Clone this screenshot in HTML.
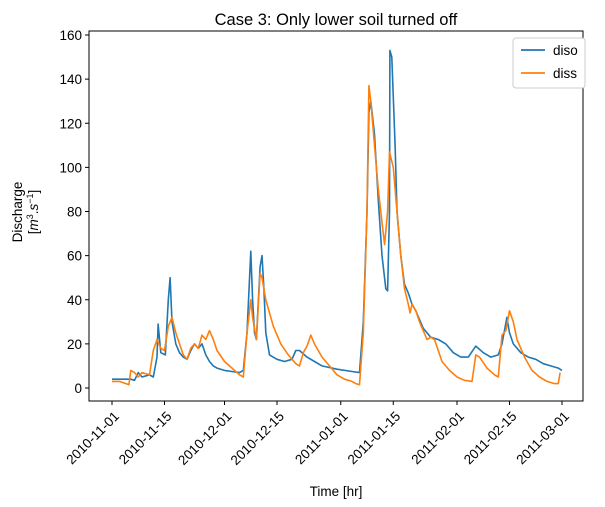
<!DOCTYPE html>
<html><head><meta charset="utf-8"><style>
html,body{margin:0;padding:0;background:#fff;}
svg{display:block;font-family:"Liberation Sans","DejaVu Sans",sans-serif;}
</style></head><body>
<svg id="chart" width="605" height="507">
<text x="336" y="25" text-anchor="middle" font-size="16.5">Case 3: Only lower soil turned off</text>
<g id="plot"></g>
<g id="axes"></g>
<text x="336" y="496" text-anchor="middle" font-size="13.5">Time [hr]</text>
<g transform="translate(22,212) rotate(-90)">
<text x="0" y="0" text-anchor="middle" font-size="13.5">Discharge</text>
<text x="0" y="16" text-anchor="middle" font-size="13.5">[<tspan font-style="italic">m</tspan><tspan font-size="9" dy="-5">3</tspan><tspan dy="5">.</tspan><tspan font-style="italic">s</tspan><tspan font-size="9" dy="-5">−1</tspan><tspan dy="5">]</tspan></text>
</g>
<g>
<rect x="513" y="38" width="72" height="50" fill="#fff" stroke="#ccc" rx="3"></rect>
<line x1="521" y1="50" x2="545" y2="50" stroke="#1f77b4" stroke-width="1.8"></line>
<text x="553" y="55" font-size="13.5">diso</text>
<line x1="521" y1="73" x2="545" y2="73" stroke="#ff7f0e" stroke-width="1.8"></line>
<text x="553" y="78" font-size="13.5">diss</text>
</g>
</svg>
<script>
const xTickLabels=["2010-11-01","2010-11-15","2010-12-01","2010-12-15","2011-01-01","2011-01-15","2011-02-01","2011-02-15","2011-03-01"];
const xTickDays=[0,14,30,44,61,75,92,106,120];
const yTicks=[0,20,40,60,80,100,120,140,160];
const disoDays=[0,5,6,7,8,10,11,12,12.3,13,14.2,15,15.5,16,17,18,19,20,21,22,23,24,25,26,27,28,30,32,34,35,36,37,37.5,38,38.5,39.5,40,40.5,41,42,44,46,48,49,50,52,54,56,60,64,66,67,68,68.5,69,70,71,72,73,73.5,74,74.1,74.6,75.5,76,77,78,79,80,81,83,85,87,89,91,93,95,97,99,101,103,104,105.3,106,107,109,111,113,115,117,119,120];
const disoVals=[4,4,3.5,7,5,6,5,14,29,16,15,40,50,30,20,16,14,13,17,20,18,20,15,12,10,9,8,7.5,7,8,25,62,40,25,22,55,60,45,25,15,13,12,13,17,17,14,12,10,8.5,7.5,7,30,80,125,130,115,85,60,45,44,80,153,150,110,80,60,47,43,38,35,27,23,22,20,16,14,14,19,16,14,15,20,32,25,20,16,14,13,11,10,9,8];
const dissDays=[0,2,4.5,5,6,7,8,10,11,12,13,14,15,16,17,18,19,20,21,22,23,24,25,26,27,28,30,32,34,35,36,37,37.5,38.5,39.5,40,41,43,45,47,49,50,51,52,53,54,56,58,60,62,64,65,66,67,68,68.5,69,70,71,72,72.7,73.5,74,75,76,77,78,79,79.5,80,81,82,84,85,86,88,90,92,94,96,97,98,100,102,103,104,105,106,107,108,110,112,114,116,118,119,119.5];
const dissVals=[3,3,1.5,8,7,5,7,6,17,22,18,17,28,32,25,20,15,13,18,20,18,24,22,26,22,17,12,9,6,5,25,40,32,22,52,50,40,28,20,15,11,10,16,19,24,20,14,10,6,4,3,2,1.5,25,80,137,130,110,90,75,65,80,107,100,80,60,45,38,34,38,35,30,22,23,22,12,8,5,3.5,3,15,14,9,6,5,24,26,35,30,22,14,8,5,3,2,2,7];
const L=89,R=583,T=31,B=401;
const xs=d=>112+d*3.75;
const ys=v=>388-v*(353/160);
const NS="http://www.w3.org/2000/svg";
const plot=document.getElementById('plot'),axes=document.getElementById('axes');
function mk(tag,attrs,parent){const e=document.createElementNS(NS,tag);for(const k in attrs)e.setAttribute(k,attrs[k]);parent.appendChild(e);return e;}
function series(days,vals,color,name){
  let d=days.map((t,i)=>(i?'L':'M')+xs(t).toFixed(1)+','+ys(vals[i]).toFixed(1)).join('');
  const p=mk('path',{d:d,fill:'none',stroke:color,'stroke-width':1.6,'stroke-linejoin':'round'},plot);
  
  
}
series(disoDays,disoVals,'#1f77b4','series-diso');
series(dissDays,dissVals,'#ff7f0e','series-diss');
const frame=mk('rect',{x:L,y:T,width:R-L,height:B-T,fill:'none',stroke:'#000','stroke-width':1},axes);


yTicks.forEach(v=>{
  const y=ys(v);
  mk('line',{x1:L-4,x2:L,y1:y,y2:y,stroke:'#000'},axes);
  const t=mk('text',{x:0,y:0,'text-anchor':'end','font-size':13.5},axes);
  t.setAttribute('x',L-7);t.setAttribute('y',y+5);
  t.textContent=v;
  
  
});
xTickDays.forEach((d,i)=>{
  const x=xs(d);
  mk('line',{x1:x,x2:x,y1:B,y2:B+4,stroke:'#000'},axes);
  const t=mk('text',{x:0,y:0,'text-anchor':'end','font-size':13.5,transform:`translate(${x+8},${B+16}) rotate(-45)`},axes);
  t.textContent=xTickLabels[i];
  
  
});
</script>
</body></html>
